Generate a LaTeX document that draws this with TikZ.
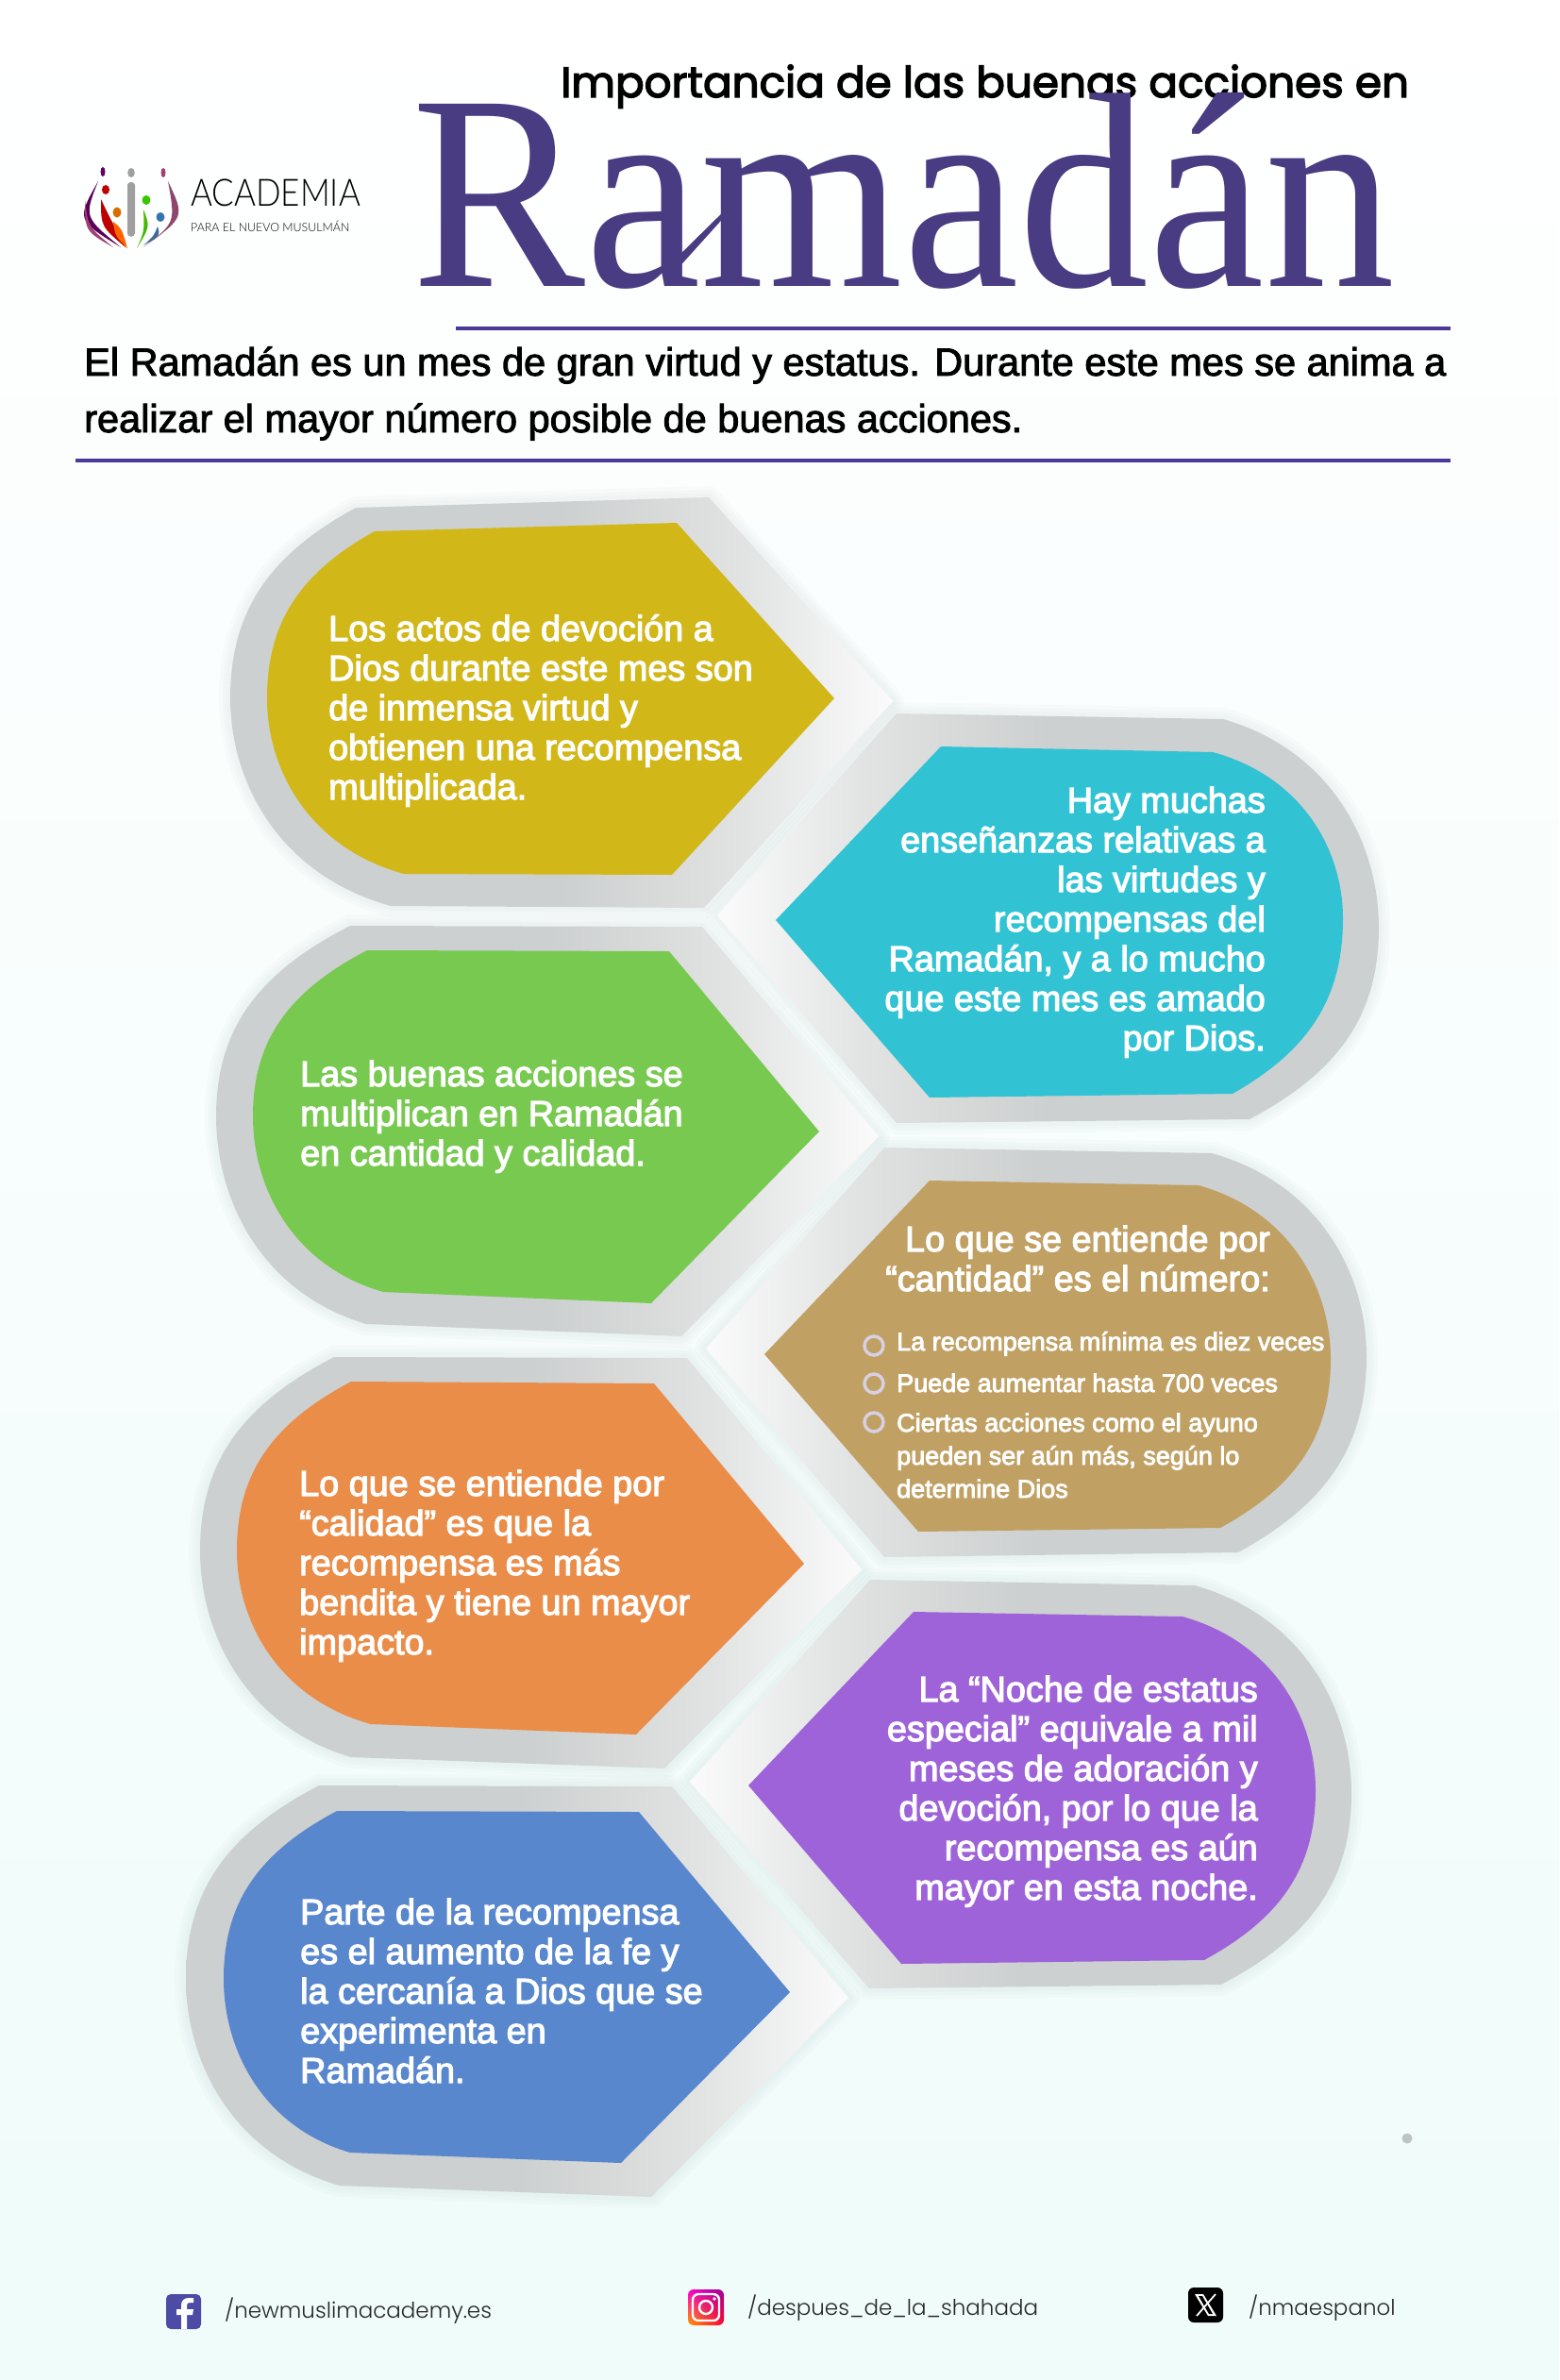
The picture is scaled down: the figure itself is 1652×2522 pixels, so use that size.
\documentclass[tikz,border=0pt]{standalone}
\usepackage{fontspec}
\setmainfont{Liberation Sans}
\newfontfamily\bodyf{Liberation Sans}[FakeBold=3]
\newfontfamily\introf{Liberation Sans}[FakeBold=2.2]
\newfontfamily\headf{Poppins}[FakeBold=3]
\newfontfamily\socialf{Poppins Light}
\newfontfamily\ramf{Liberation Serif}
\newfontfamily\logof{Lato Light}
\usetikzlibrary{calc,shadings}
\definecolor{tyellow}{HTML}{D2B718}
\definecolor{tteal}{HTML}{31C3D4}
\definecolor{tgreen}{HTML}{78C950}
\definecolor{ttan}{HTML}{C1A063}
\definecolor{torange}{HTML}{EA8D49}
\definecolor{tpurple}{HTML}{9F63D9}
\definecolor{tblue}{HTML}{5887CE}
\definecolor{ramcol}{HTML}{4A3C82}
\definecolor{rulecol}{HTML}{4B389B}
\definecolor{frameA}{HTML}{CDD0D0}
\definecolor{frameM}{HTML}{E2E3E3}
\definecolor{frameB}{HTML}{FBFBFB}
\definecolor{shadowcol}{HTML}{7F9A9A}
\definecolor{bgbottom}{HTML}{EFFCFA}
\definecolor{bulletcol}{HTML}{D6D0E2}
\pgfdeclarehorizontalshading{frameLs}{100bp}{color(0bp)=(frameA); color(50bp)=(frameA); color(64bp)=(frameM); color(75bp)=(frameB); color(100bp)=(frameB)}
\pgfdeclarehorizontalshading{frameRs}{100bp}{color(0bp)=(frameB); color(25bp)=(frameB); color(36bp)=(frameM); color(50bp)=(frameA); color(100bp)=(frameA)}
% A: corner where the curve starts, B,C,D: straight corners, E: corner where the curve ends, F: extreme of the round side
\newcommand{\tilepathL}[7]{%
  \path[#1] let \p1=(#2),\p2=(#7),\p3=(#6) in
    (\p1) -- (#3) -- (#4) -- (#5) -- (\p3)
    .. controls ({\x3+.7*(\x2-\x3)},{\y3+.15*(\y2-\y3)}) and ({\x2},{\y2+.4*(\y3-\y2)}) .. (\p2)
    .. controls ({\x2},{\y2+.45*(\y1-\y2)}) and ({\x1+.7*(\x2-\x1)},{\y1+.25*(\y2-\y1)}) .. (\p1) -- cycle;}
\newcommand{\tilepathR}[7]{%
  \path[#1] let \p1=(#2),\p2=(#7),\p3=(#6) in
    (\p1) -- (#3) -- (#4) -- (#5) -- (\p3)
    .. controls ({\x3+.7*(\x2-\x3)},{\y3+.25*(\y2-\y3)}) and ({\x2},{\y2+.45*(\y3-\y2)}) .. (\p2)
    .. controls ({\x2},{\y2+.4*(\y1-\y2)}) and ({\x1+.7*(\x2-\x1)},{\y1+.15*(\y2-\y1)}) .. (\p1) -- cycle;}
\newcommand{\frametileL}[6]{%
  \foreach \w in {24,16,9}{\tilepathL{draw=shadowcol,line width=\w,opacity=.03,line join=round}{#1}{#2}{#3}{#4}{#5}{#6}}
  \tilepathL{shade,shading=frameLs}{#1}{#2}{#3}{#4}{#5}{#6}}
\newcommand{\frametileR}[6]{%
  \foreach \w in {24,16,9}{\tilepathR{draw=shadowcol,line width=\w,opacity=.03,line join=round}{#1}{#2}{#3}{#4}{#5}{#6}}
  \tilepathR{shade,shading=frameRs}{#1}{#2}{#3}{#4}{#5}{#6}}
\newcommand{\crescent}[5]{\fill[#1] (#2) .. controls (#3) .. (#5) .. controls (#4) .. cycle;}
\tikzset{
  txt/.style={text=white,inner sep=0pt,font=\bodyf\fontsize{37.8}{42}\selectfont},
  txtL/.style={txt,anchor=base west,align=left},
  txtR/.style={txt,anchor=base east,align=right},
  subtxt/.style={text=white,inner sep=0pt,anchor=base west,align=left,font=\bodyf\fontsize{27}{35}\selectfont},
  ringb/.style={draw=bulletcol,line width=3.5,fill=none},
  rulel/.style={draw=rulecol,line width=4},
  social/.style={inner sep=0pt,anchor=base west,text=black!85,font=\socialf\fontsize{23}{30}\selectfont},
}
\begin{document}
\begin{tikzpicture}[x=1pt,y=-1pt]
\useasboundingbox (0,0) rectangle (1652,2522);
\shade[top color=white,bottom color=bgbottom] (0,0) rectangle (1652,2522);

% header
\node[inner sep=0pt,anchor=base west,font=\headf\fontsize{45.3}{50}\selectfont] (head) at (594,103) {Importancia de las buenas acciones en};
\node[inner sep=0pt,anchor=base west,text=ramcol,font=\ramf\fontsize{295}{300}\selectfont] (ram) at (436,303) {\scalebox{0.935}[1]{Ramadán}};
\fill[ramcol] (708,282) -- (778,213) -- (780,216) -- (716,287) -- cycle;
\draw[rulel] (483,348) -- (1537,348);
\node[inner sep=0pt,anchor=base west,align=left,font=\introf\fontsize{41.5}{60}\selectfont] (intro) at (89,458) {El Ramadán es un mes de gran virtud y estatus. Durante este mes se anima a\\realizar el mayor número posible de buenas acciones.};
\draw[rulel] (80,488) -- (1537,488);

% logo
\fill[gray!75] (139,183) ellipse (3.8 and 5);
\fill[gray!75] (135,196) .. controls (135,192) and (143,192) .. (143,196) -- (143,247) .. controls (143,252) and (135,252) .. (135,247) -- cycle;
\fill[red!75!black] (112,201) ellipse (4 and 5);
\crescent{red!75!black}{107,211}{107,240}{115,228}{133,262}
\fill[orange!85!black] (124,225) ellipse (4.5 and 5.5);
\crescent{orange!80!red}{120,235}{122,250}{129,242}{135,263}
\fill[green!55!olive] (155,212) ellipse (4.5 and 5);
\crescent{green!45!olive}{152,222}{153,245}{159,240}{145,263}
\fill[cyan!60!blue!80!black] (170,230) ellipse (4.5 and 5);
\crescent{cyan!55!blue!70!black}{167,240}{163,250}{170,250}{152,260}
\fill[violet!80!black] (109,182) ellipse (2.5 and 5);
\crescent{violet!70!black}{104,192}{81,233}{89,230}{128,262}
\fill[magenta!60!black] (173,183) ellipse (2.5 and 5);
\crescent{magenta!50!black}{178,192}{196,230}{186,236}{152,262}
\crescent{magenta!50!violet!80!black}{90,211}{90,245}{93,240}{120,262}
\node[inner sep=0pt,anchor=base west,font=\logof\fontsize{40}{40}\selectfont] (acad) at (202,218) {\scalebox{0.875}[1]{ACADEMIA}};
\node[inner sep=0pt,anchor=base west,font=\logof\fontsize{12.4}{13}\selectfont] (para) at (202,245) {PARA EL NUEVO MUSULMÁN};

% tiles
\frametileL{377,538}{751,527}{946,743}{746,962}{414,960}{244,740}
\tilepathL{fill=tyellow}{397,563}{717,554}{884,740}{712,927}{428,926}{283,740}
\frametileR{1296,762}{950,756}{760,970}{950,1190}{1324,1186}{1461,983}
\tilepathR{fill=tteal}{1285,797}{997,791}{822,975}{985,1163}{1306,1159}{1423,973}
\frametileL{371,981}{744,982}{931,1204}{722,1416}{388,1403}{229,1183}
\tilepathL{fill=tgreen}{389,1007}{709,1008}{868,1199}{690,1381}{406,1369}{268,1183}
\frametileR{1284,1222}{937,1216}{748,1429}{937,1650}{1312,1645}{1448,1437}
\tilepathR{fill=ttan}{1270,1256}{985,1251}{810,1435}{973,1623}{1293,1619}{1410,1440}
\frametileL{354,1438}{728,1439}{913,1663}{704,1874}{372,1862}{212,1643}
\tilepathL{fill=torange}{372,1464}{693,1466}{852,1657}{674,1838}{393,1827}{251,1643}
\frametileR{1266,1680}{922,1674}{731,1888}{921,2107}{1294,2103}{1432,1900}
\tilepathR{fill=tpurple}{1253,1713}{968,1708}{793,1892}{955,2081}{1276,2077}{1394,1897}
\frametileL{338,1892}{712,1893}{899,2117}{690,2328}{360,2316}{197,2097}
\tilepathL{fill=tblue}{357,1919}{677,1920}{837,2111}{658,2292}{371,2281}{237,2097}

% tile texts
\node[txtL] (t1) at (348,847) {Los actos de devoción a\\Dios durante este mes son\\de inmensa virtud y\\obtienen una recompensa\\multiplicada.};
\node[txtR] (t2) at (1341,1113) {Hay muchas\\enseñanzas relativas a\\las virtudes y\\recompensas del\\Ramadán, y a lo mucho\\que este mes es amado\\por Dios.};
\node[txtL] (t3) at (318,1235) {Las buenas acciones se\\multiplican en Ramadán\\en cantidad y calidad.};
\node[txtR] (t4) at (1346,1368) {Lo que se entiende por\\“cantidad” es el número:};
\node[txtL] (t5) at (317,1753) {Lo que se entiende por\\“calidad” es que la\\recompensa es más\\bendita y tiene un mayor\\impacto.};
\node[txtR] (t6) at (1333,2013) {La “Noche de estatus\\especial” equivale a mil\\meses de adoración y\\devoción, por lo que la\\recompensa es aún\\mayor en esta noche.};
\node[txtL] (t7) at (318,2207) {Parte de la recompensa\\es el aumento de la fe y\\la cercanía a Dios que se\\experimenta en\\Ramadán.};

% bullets
\draw[ringb] (926,1426) circle (10);
\draw[ringb] (926,1466) circle (10);
\draw[ringb] (926,1507) circle (10);
\node[subtxt] (b1) at (950,1431) {La recompensa mínima es diez veces};
\node[subtxt] (b2) at (950,1475) {Puede aumentar hasta 700 veces};
\node[subtxt] (b3) at (950,1587) {Ciertas acciones como el ayuno\\pueden ser aún más, según lo\\determine Dios};

% grey dot
\fill[gray!45!bgbottom] (1491,2266) circle (5.5);

% footer
\fill[blue!50!black!70!white,rounded corners=5] (176,2431) rectangle (213,2468);
\fill[white] (198,2468) -- (198,2453) -- (204,2453) -- (205,2447) -- (198,2447) -- (198,2443) .. controls (198,2441) and (199,2440) .. (201,2440) -- (205,2440) -- (205,2435) -- (200,2435) .. controls (195,2435) and (192,2438) .. (192,2443) -- (192,2447) -- (187,2447) -- (187,2453) -- (192,2453) -- (192,2468) -- cycle;
\node[social] (s1) at (238,2456) {/newmuslimacademy.es};
\shade[shading=bilinear interpolation,lower left=orange!80!yellow,upper left=magenta!80!red,upper right=violet!80!magenta,lower right=red!80!magenta,rounded corners=6] (729,2426) rectangle (767,2464);
\draw[white,line width=2.4,rounded corners=6] (734,2431) rectangle (762,2459);
\draw[white,line width=2.4] (748,2445) circle (7);
\fill[white] (757,2436) circle (1.8);
\node[social] (s2) at (792,2453) {/despues\_de\_la\_shahada};
\fill[black,rounded corners=6] (1259,2424) rectangle (1296,2461);
\fill[white] (1266,2431) -- (1275,2431) -- (1289,2454) -- (1280,2454) -- cycle;
\fill[black] (1270,2433) -- (1274,2433) -- (1285,2452) -- (1281,2452) -- cycle;
\draw[white,line width=1.8] (1288,2431) -- (1268,2454);
\node[social] (s3) at (1323,2453) {/nmaespanol};
\end{tikzpicture}
\end{document}
